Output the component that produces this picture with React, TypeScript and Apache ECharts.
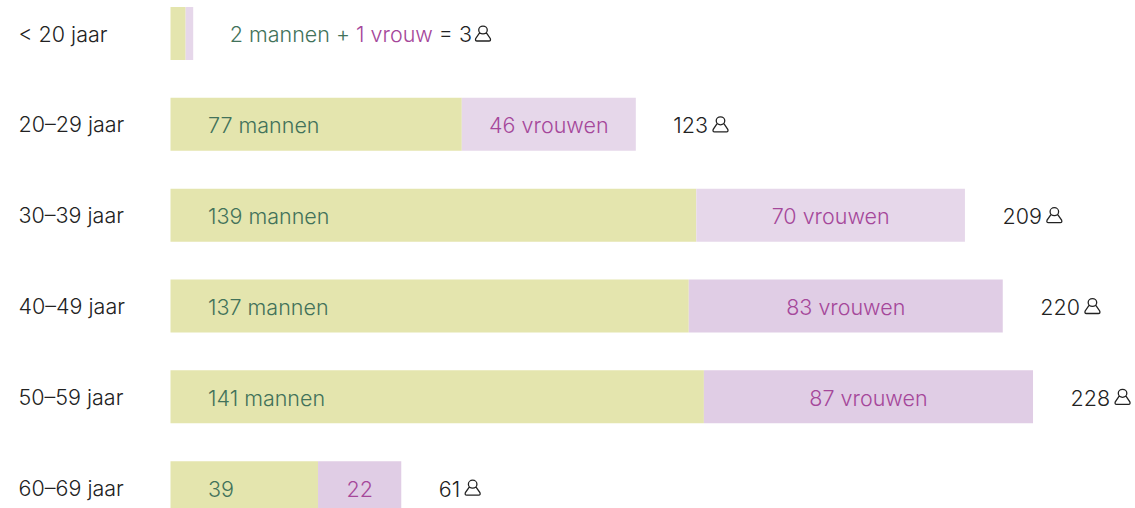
import React, { useEffect, useRef } from "react";
import * as echarts from "echarts";

const categories = ["< 20 jaar", "20–29 jaar", "30–39 jaar", "40–49 jaar", "50–59 jaar", "60–69 jaar"];
// Drawn bar lengths, as measured. The youngest row and the 30–39 row are drawn wider than their counts in the reference.
const menBars = [4, 77, 139, 137, 141, 39];
const womenBars = [2, 46, 71, 83, 87, 22];
const menLabels = ["", "77 mannen", "139 mannen", "137 mannen", "141 mannen", "39"];
const womenLabels = ["", "46 vrouwen", "70 vrouwen", "83 vrouwen", "87 vrouwen", "22"];
const totals = ["3", "123", "209", "220", "228", "61"];
const womenColors = ["#e6d7ea", "#e6d7ea", "#e6d7ea", "#e0cde5", "#e0cde5", "#e0cde5"];
const firstRowGreen = "2 mannen + ";
const firstRowPurple = "1 vrouw";
const firstRowDark = " = ";

const FONT = "Inter, sans-serif";
const SIZE = 21.5;
const WEIGHT = 300;
const GREEN = "#42725a";
const PURPLE = "#a5479a";
const DARK = "#222222";
const ICON = "M8 1 C10.2 1 12 2.7 12 4.7 C12 6.8 10.2 8.4 8 8.4 C5.8 8.4 4 6.8 4 4.7 C4 2.7 5.8 1 8 1 Z M4.8 7.4 L1.2 12.6 Q0.4 15 2.4 15 L13.6 15 Q15.6 15 14.8 12.6 L11.2 7.4";

const ctx = document.createElement("canvas").getContext("2d")!;
function textWidth(s: string) {
  ctx.font = `${WEIGHT} ${SIZE}px ${FONT}`;
  return ctx.measureText(s).width;
}

export default function App() {
  const ref = useRef<HTMLDivElement>(null);
  useEffect(() => {
    document.body.style.margin = "0";
    const chart = echarts.init(ref.current!, undefined, { renderer: "svg" });
    const baseLabel = { show: true, fontFamily: FONT, fontSize: SIZE, fontWeight: WEIGHT, offset: [0, 1] };
    chart.setOption({
      animation: false,
      grid: {
        left: 170.5,
        top: -11.9,
        width: 1134.9,
        height: 545,
        containLabel: false,
        outerBoundsMode: "none",
      },
      xAxis: { type: "value", min: 0, max: 300, show: false },
      yAxis: {
        type: "category",
        inverse: true,
        data: categories,
        axisLine: { show: false },
        axisTick: { show: false },
        splitLine: { show: false },
        axisLabel: {
          align: "left",
          margin: 152,
          padding: [2, 0, 0, 0],
          color: DARK,
          fontFamily: FONT,
          fontSize: SIZE,
          fontWeight: WEIGHT,
        },
      },
      series: [
        {
          type: "bar",
          stack: "a",
          barWidth: 53,
          data: menBars,
          itemStyle: { color: "#e4e5ae" },
          label: {
            ...baseLabel,
            position: "insideLeft",
            distance: 37.5,
            color: GREEN,
            formatter: (p: any) => menLabels[p.dataIndex],
          },
        },
        {
          type: "bar",
          stack: "a",
          barWidth: 53,
          data: womenBars.map((v, i) => ({ value: v, itemStyle: { color: womenColors[i] } })),
          label: {
            ...baseLabel,
            position: "inside",
            color: PURPLE,
            formatter: (p: any) => womenLabels[p.dataIndex],
          },
        },
        {
          type: "custom",
          silent: true,
          clip: false,
          encode: { x: 0, y: 1 },
          data: menBars.map((v, i) => [v + womenBars[i], i]),
          renderItem: (params: any, api: any) => {
            const i = params.dataIndex;
            const [x0, y] = api.coord([api.value(0), i]);
            const x = x0 + 37.5;
            const font = { fontFamily: FONT, fontSize: SIZE, fontWeight: WEIGHT };
            const prefix = i === 0 ? firstRowGreen + firstRowPurple + firstRowDark : "";
            const full = prefix + totals[i];
            const rich = {
              g: { ...font, fill: GREEN, color: GREEN },
              p: { ...font, fill: PURPLE, color: PURPLE },
              d: { ...font, fill: DARK, color: DARK },
            };
            const text =
              i === 0
                ? `{g|${firstRowGreen}}{p|${firstRowPurple}}{d|${firstRowDark}${totals[i]}}`
                : `{d|${totals[i]}}`;
            const w = textWidth(full);
            return {
              type: "group",
              children: [
                {
                  type: "text",
                  x: i === 0 ? x - 1 : x,
                  y: i === 0 ? y + 0.5 : y + 1,
                  style: {
                    text,
                    rich,
                    ...font,
                    fill: DARK,
                    align: "left",
                    verticalAlign: "middle",
                  },
                },
                {
                  type: "path",
                  shape: {
                    pathData: ICON,
                    layout: "center",
                    x: i === 0 ? x + w + 2.5 : x + w + 5,
                    y: y - 7.5,
                    width: 15,
                    height: 15,
                  },
                  style: { fill: "none", stroke: DARK, lineWidth: 1.3 },
                },
              ],
            };
          },
        },
      ],
    });
    return () => chart.dispose();
  }, []);
  return <div ref={ref} style={{ width: 1135, height: 508, overflow: "hidden" }} />;
}
